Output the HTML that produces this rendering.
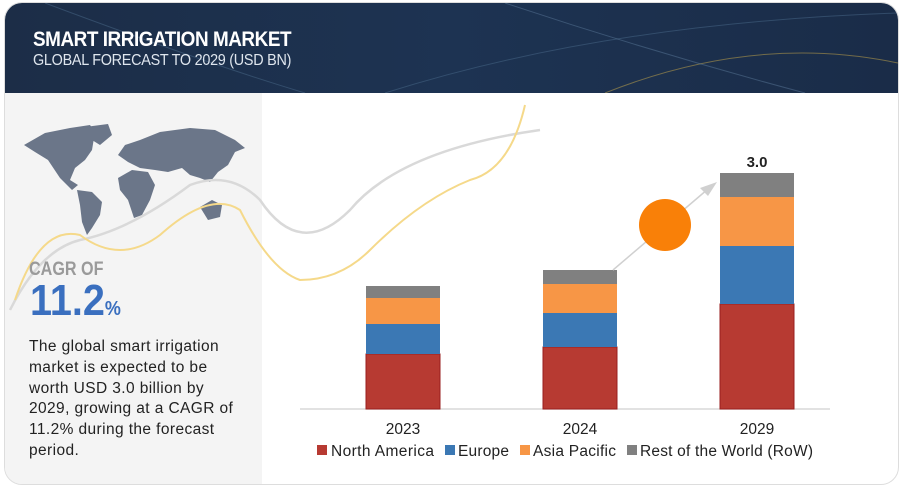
<!DOCTYPE html><html><head><style>
body{margin:0;width:900px;height:486px;background:#fff;font-family:"Liberation Sans",sans-serif;position:relative;overflow:hidden}
.abs{position:absolute}
</style></head><body>
<div class="abs" style="left:4px;top:2px;width:893px;height:481px;border:1px solid #ddd;border-radius:18px;background:#fff;overflow:hidden">
<div class="abs" style="left:0;top:0;width:893px;height:90px;background:linear-gradient(90deg,#1c2d47,#1d3352 50%,#1a2c48)"></div>
<svg class="abs" style="left:0;top:0" width="893" height="90"><path d="M40 0 Q200 60 300 90" stroke="#4a6a8a" fill="none" opacity=".5"/><path d="M380 90 Q600 20 893 10" stroke="#4a6a8a" fill="none" opacity=".5"/><path d="M600 90 Q750 30 893 60" stroke="#c9a94a" fill="none" opacity=".5"/><path d="M500 0 Q650 50 800 90" stroke="#6a8aaa" fill="none" opacity=".4"/></svg>
<div class="abs" style="left:0;top:90px;width:257px;height:391px;background:#f4f4f4"></div>
</div>
<div class="abs" style="left:33px;top:28px;color:#fff;font-size:21px;font-weight:bold;letter-spacing:-0.5px;transform:scaleX(.9);transform-origin:left">SMART IRRIGATION MARKET</div>
<div class="abs" style="left:33px;top:52px;color:#dfe6ee;font-size:16px;letter-spacing:-0.3px;transform:scaleX(.9);transform-origin:left">GLOBAL FORECAST TO 2029 (USD BN)</div>
<svg class="abs" style="left:0;top:0" width="900" height="486">
<g fill="#6b7689">
<path d="M24 145 L45 133 L70 128 L90 125 L95 132 L92 150 L85 160 L75 168 L70 180 L78 185 L72 190 L60 178 L48 160 L35 152Z"/>
<path d="M85 127 L108 124 L112 135 L100 145 L92 140Z"/>
<path d="M77 190 L92 192 L102 202 L100 215 L92 228 L87 235 L82 222 L80 205Z"/>
<path d="M118 155 L125 145 L140 140 L160 132 L190 128 L215 130 L235 140 L245 148 L235 152 L228 165 L218 172 L210 182 L200 178 L190 175 L182 168 L168 172 L155 170 L140 168 L128 162Z"/>
<path d="M118 178 L132 170 L148 172 L155 185 L150 200 L142 215 L134 218 L128 200 L120 190Z"/>
<path d="M200 207 L212 200 L222 205 L220 217 L208 220Z"/>
</g>
<path d="M10 310 Q40 250 80 240 Q130 230 190 185 Q230 170 260 200 Q300 260 350 210 Q400 150 540 130" stroke="#d9d9d9" stroke-width="2.5" fill="none"/>
<path d="M15 300 Q40 225 80 235 Q120 265 160 235 Q210 190 240 210 Q270 270 300 280 Q340 280 370 250 Q420 200 470 180 Q510 170 525 105" stroke="#f5d98a" stroke-width="2" fill="none"/>
<line x1="300" y1="409" x2="830" y2="409" stroke="#d9d9d9" stroke-width="1.5"/>
<rect x="366" y="354" width="74" height="55" fill="#b73a32" stroke="#9a1f1f"/>
<rect x="366" y="324" width="74" height="30" fill="#3b78b4"/>
<rect x="366" y="298" width="74" height="26" fill="#f79646"/>
<rect x="366" y="286" width="74" height="12" fill="#808080"/>
<rect x="543" y="347" width="74" height="62" fill="#b73a32" stroke="#9a1f1f"/>
<rect x="543" y="313" width="74" height="34" fill="#3b78b4"/>
<rect x="543" y="284" width="74" height="29" fill="#f79646"/>
<rect x="543" y="270" width="74" height="14" fill="#808080"/>
<rect x="720" y="304" width="74" height="105" fill="#b73a32" stroke="#9a1f1f"/>
<rect x="720" y="246" width="74" height="58" fill="#3b78b4"/>
<rect x="720" y="197" width="74" height="49" fill="#f79646"/>
<rect x="720" y="173" width="74" height="24" fill="#808080"/>
<line x1="613" y1="270" x2="708" y2="189" stroke="#d0d0d0" stroke-width="1.5"/>
<polygon points="717,182 700,188 708,196" fill="#d0d0d0"/>
<circle cx="665" cy="225" r="26" fill="#f98008"/>
<g font-size="15.5" fill="#222" text-anchor="middle"><text x="403" y="434">2023</text><text x="580" y="434">2024</text><text x="757" y="434">2029</text></g>
<text x="757" y="167" font-size="15" font-weight="bold" text-anchor="middle" fill="#222">3.0</text>
<g font-size="15.5" fill="#222">
<rect x="317" y="445" width="10" height="10" fill="#b73a32"/><text x="331" y="456" textLength="103">North America</text>
<rect x="445" y="445" width="10" height="10" fill="#3b78b4"/><text x="458" y="456" textLength="51">Europe</text>
<rect x="520" y="445" width="10" height="10" fill="#f79646"/><text x="533" y="456" textLength="83">Asia Pacific</text>
<rect x="627" y="445" width="10" height="10" fill="#808080"/><text x="640" y="456" textLength="173">Rest of the World (RoW)</text>
</g>
</svg>
<div class="abs" style="left:29px;top:259px;color:#9a9a9a;font-size:19px;font-weight:bold;transform:scaleX(.85);transform-origin:left">CAGR OF</div>
<div class="abs" style="left:30px;top:279px;color:#3a6fbf;font-size:44px;font-weight:bold;line-height:44px;transform:scaleX(.9);transform-origin:left">11.2<span style="font-size:20px">%</span></div>
<div class="abs" style="left:29px;top:337px;width:230px;color:#222;font-size:15.5px;line-height:20.8px;letter-spacing:0.4px">The global smart irrigation<br>market is expected to be<br>worth USD 3.0 billion by<br>2029, growing at a CAGR of<br>11.2% during the forecast<br>period.</div>
</body></html>
